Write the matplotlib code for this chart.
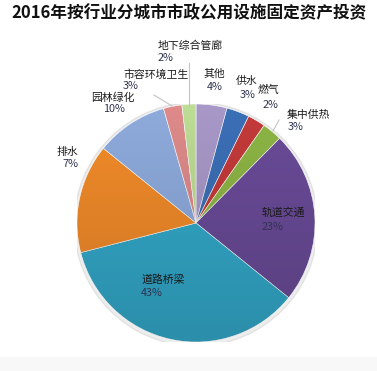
import matplotlib
matplotlib.use("Agg")
import matplotlib.pyplot as plt
import numpy as np
from matplotlib.patches import Circle

plt.rcParams['font.family'] = ['Noto Sans CJK SC', 'DejaVu Sans']

# slices, clockwise from the top
names = ['其他', '供水', '燃气', '集中供热', '轨道交通', '道路桥梁',
         '排水', '园林绿化', '市容环境卫生', '地下综合管廊']
# slice sizes as drawn in the picture
shares = [4.2, 3.1, 2.4, 2.7, 23.4, 35.2, 14.8, 9.8, 2.5, 1.9]
# printed percentages
pct_text = ['4%', '3%', '2%', '3%', '23%', '43%', '7%', '10%', '3%', '2%']
colors = ['#a898c8', '#3b6fb6', '#c43a3a', '#8db545', '#6a4b98',
          '#33a9ca', '#f28b2a', '#8eabdc', '#de8a8a', '#bddc95']

W, H = 377, 371
fig = plt.figure(figsize=(W / 100, H / 100), dpi=100)
fig.patch.set_facecolor('white')

# pie centre and radius in pixels
cx, cy, r = 196, 223, 119
ax = fig.add_axes([(cx - r) / W, (H - cy - r) / H, 2 * r / W, 2 * r / H])
ax.set_aspect('equal')
ax.axis('off')

# soft shadow
ax.add_patch(Circle((0.0, -0.01), 1.025, color='#000000', alpha=0.07, zorder=0))

wedges, _ = ax.pie(shares, colors=colors, startangle=90, counterclock=False,
                   radius=1, wedgeprops=dict(edgecolor='white', linewidth=0.4))

# darker toward the bottom, like the office-style gradient
shade = np.zeros((256, 1, 4))
shade[:, 0, 3] = np.linspace(0.0, 0.16, 256)
img = ax.imshow(shade, extent=(-1, 1, -1, 1), origin='upper',
                aspect='auto', zorder=3)
img.set_clip_path(Circle((0, 0), 1, transform=ax.transData))
ax.set_xlim(-1, 1)
ax.set_ylim(-1, 1)


def px(x, y):
    return x / W, 1 - y / H


title = fig.text(*px(189, 13), '2016年按行业分城市市政公用设施固定资产投资',
                 ha='center', va='center', fontsize=13, fontweight='bold',
                 color='#111111')
# fit the title to the width seen in the reference (~354 px)
renderer = fig.canvas.get_renderer()
tw = title.get_window_extent(renderer).width
title.set_fontsize(13 * 354 / tw)

# label anchor (left edge of name, name y, percent y)
label_pos = [(203, 74, 87), (236, 81, 95), (258, 90, 105), (287, 115, 127),
             (262, 213, 227), (141, 280, 293), (57, 152, 164),
             (91, 98, 109), (123, 74, 86), (158, 46, 58)]
pct_dx = [4, 4, 5, 1, 0, 0, 5, 12, 0, 0]

for n, p, (lx, ny, py), dx in zip(names, pct_text, label_pos, pct_dx):
    fig.text(*px(lx, ny), n, ha='left', va='center', fontsize=7.8,
             color='#1a1a1a')
    fig.text(*px(lx + dx, py), p, ha='left', va='center', fontsize=7.8,
             color='#2f3350')

# leader lines
for (x0, y0), (x1, y1) in [((189, 63), (189, 106)),
                           ((154, 95), (172, 106)),
                           ((279, 120), (273, 131))]:
    fig.add_artist(plt.Line2D([x0 / W, x1 / W], [1 - y0 / H, 1 - y1 / H],
                              color='#c4c4c4', linewidth=0.8))

# light band at the bottom
fig.add_artist(plt.Rectangle((0, 0), 1, 14 / H, transform=fig.transFigure,
                             color='#f8f8f8', zorder=-1))

fig.savefig('out.png', dpi=100)
